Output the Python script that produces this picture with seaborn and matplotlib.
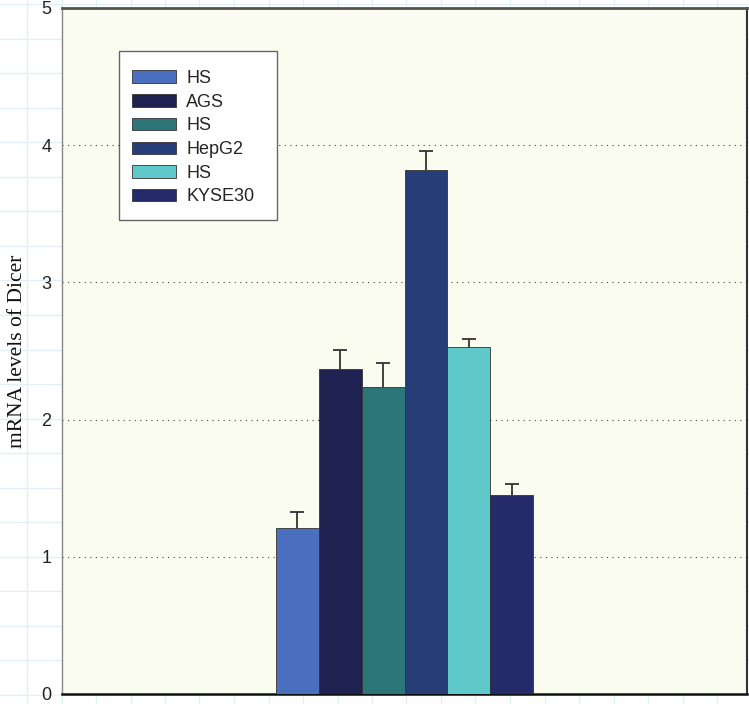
import numpy as np
import matplotlib
matplotlib.use("Agg")
import matplotlib.pyplot as plt
import seaborn as sns
from matplotlib.patches import Patch, Rectangle
from matplotlib.lines import Line2D

# data
sample_ids = ["HS_1", "AGS", "HS_2", "HepG2", "HS_3", "KYSE30"]
legend_labels = ["HS", "AGS", "HS", "HepG2", "HS", "KYSE30"]
dicer_levels = [1.21, 2.37, 2.24, 3.82, 2.53, 1.45]
dicer_err = [0.12, 0.14, 0.17, 0.14, 0.055, 0.08]
bar_colors = ["#4A6FBF", "#1F2150", "#2C7579", "#263D78", "#5FC8C8", "#252A6A"]
y_ticks = [0, 1, 2, 3, 4, 5]

sns.set_style("white")
plt.rcParams["font.family"] = ["Liberation Sans", "DejaVu Sans"]

W, H = 749, 704
fig = plt.figure(figsize=(W / 100, H / 100), dpi=100)
fig.patch.set_facecolor("white")

# graph paper background
for k in range(22):
    yp = 695 - 34.55 * k
    fig.add_artist(Line2D([0, 1], [(H - yp) / H] * 2, transform=fig.transFigure,
                          color="#E1F0F5", lw=1, zorder=-1))
    xp = 27 + 34.5 * k
    fig.add_artist(Line2D([xp / W] * 2, [0, 1], transform=fig.transFigure,
                          color="#E1F0F5", lw=1, zorder=-1))

ax = fig.add_axes([62 / W, 10 / H, 685 / W, 686 / H])
ax.set_facecolor("#FBFCF0")

palette = dict(zip(sample_ids, bar_colors))
sns.barplot(x=sample_ids, y=dicer_levels, hue=sample_ids, palette=palette,
            width=1, legend=False, errorbar=None, edgecolor="#333333",
            linewidth=0.6, saturation=1, ax=ax)
for p in ax.patches:
    p.set_zorder(3)

# upper error bars only
eb = ax.errorbar(np.arange(len(sample_ids)), dicer_levels,
                 yerr=[np.zeros(len(dicer_err)), dicer_err], fmt="none",
                 ecolor="#333333", elinewidth=1.3, capsize=5, capthick=1.3, zorder=2)
eb[1][0].remove()  # drop the lower caps

ax.set_xlim(-5.5, 10.5)
ax.set_ylim(0, 5)
ax.set_xticks([])
ax.set_yticks(y_ticks)
ax.set_yticklabels([str(t) for t in y_ticks])
ax.tick_params(axis="y", length=0, pad=7.5, labelsize=13, labelcolor="#222222")
ax.set_xlabel("")
ax.set_ylabel("")

ax.set_axisbelow(True)
ax.yaxis.grid(True, color="#444444", linestyle=(0, (1, 4)), linewidth=0.8)
ax.xaxis.grid(False)

ax.spines["left"].set_color("#888888")
ax.spines["left"].set_linewidth(1)
ax.spines["top"].set_color("#555555")
ax.spines["top"].set_linewidth(2)
ax.spines["right"].set_color("#333333")
ax.spines["right"].set_linewidth(1.5)
ax.spines["bottom"].set_color("#111111")
ax.spines["bottom"].set_linewidth(1.8)
for s in ax.spines.values():
    s.set_visible(True)

# legend box
ax.add_patch(Rectangle((0.0832, 0.691), 0.2307, 0.2463, transform=ax.transAxes,
                       facecolor="white", edgecolor="#666666", lw=1, zorder=4))
handles = [Patch(facecolor=c, edgecolor="#333333", lw=0.6) for c in bar_colors]
ax.legend(handles, legend_labels, loc="upper left", bbox_to_anchor=(0.102, 0.9096),
          frameon=False, borderpad=0, borderaxespad=0, handlelength=2.45,
          handleheight=0.68, labelspacing=0.37, handletextpad=0.55,
          prop={"family": "Liberation Sans", "size": 13})

fig.text(18 / W, (H - 351) / H, "mRNA levels of Dicer", rotation=90,
         ha="center", va="center", family="Liberation Serif", fontsize=15.5,
         color="#111111")

fig.savefig("out.png", dpi=100)
